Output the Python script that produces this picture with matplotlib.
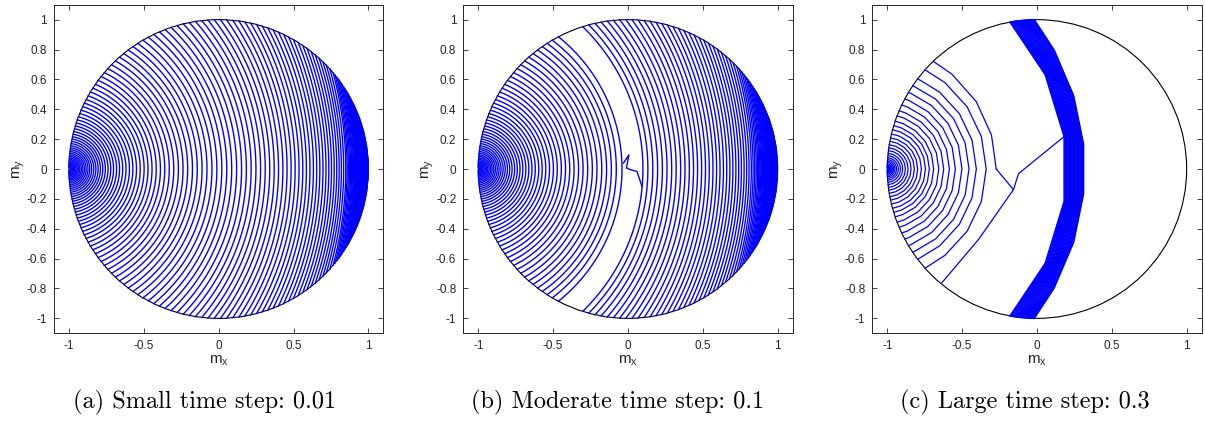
import numpy as np
import matplotlib
matplotlib.use('Agg')
import matplotlib.pyplot as plt
from matplotlib.patches import Circle

plt.rcParams['font.family'] = ['Liberation Sans', 'DejaVu Sans']
plt.rcParams['mathtext.default'] = 'regular'
plt.rcParams['axes.unicode_minus'] = False

# ---------------- data ----------------
# crossing of each precession arc with m_y = 0
a_x0 = [-0.990, -0.983, -0.976, -0.969, -0.961, -0.953, -0.945, -0.936, -0.927, -0.917,
        -0.907, -0.896, -0.885, -0.873, -0.861, -0.848, -0.834, -0.820, -0.805, -0.790,
        -0.774, -0.757, -0.739, -0.721, -0.702, -0.682, -0.662, -0.641, -0.619, -0.596,
        -0.573, -0.549, -0.524, -0.498, -0.472, -0.445, -0.417, -0.389, -0.360, -0.330,
        -0.300, -0.269, -0.238, -0.207, -0.175, -0.143, -0.111, -0.078, -0.045, -0.012,
        0.021, 0.054, 0.087, 0.120, 0.153, 0.185, 0.217, 0.249, 0.280, 0.311,
        0.341, 0.371, 0.400, 0.429, 0.457, 0.484, 0.511, 0.537, 0.562, 0.586,
        0.610, 0.633, 0.655, 0.676, 0.697, 0.717, 0.736, 0.754, 0.772, 0.789,
        0.805, 0.820, 0.835, 0.849, 0.858, 0.866, 0.874, 0.881, 0.888, 0.894,
        0.900, 0.906, 0.911, 0.916, 0.921, 0.926, 0.931, 0.935, 0.939, 0.943,
        0.947, 0.951, 0.955, 0.959, 0.962, 0.965, 0.968, 0.971, 0.974, 0.977,
        0.980, 0.983, 0.986, 0.989, 0.992, 0.995, 0.998]

b_left_x0 = [-0.990, -0.983, -0.976, -0.969, -0.961, -0.953, -0.945, -0.936, -0.927, -0.917,
             -0.907, -0.896, -0.885, -0.873, -0.861, -0.848, -0.834, -0.820, -0.805, -0.790,
             -0.774, -0.757, -0.739, -0.721, -0.702, -0.682, -0.662, -0.641, -0.619, -0.596,
             -0.573, -0.549, -0.524, -0.498, -0.472, -0.445, -0.417, -0.389, -0.360, -0.330,
             -0.300, -0.269, -0.238, -0.207, -0.175, -0.143, -0.111, -0.078, -0.040]
b_right_x0 = [0.100, 0.133, 0.166, 0.198, 0.230, 0.261, 0.292, 0.322, 0.352, 0.381,
              0.410, 0.438, 0.465, 0.492, 0.518, 0.543, 0.568, 0.592, 0.615, 0.638,
              0.660, 0.681, 0.701, 0.721, 0.740, 0.758, 0.776, 0.793, 0.809, 0.824,
              0.836, 0.847, 0.857, 0.866, 0.874, 0.881, 0.888, 0.894, 0.900, 0.906,
              0.911, 0.916, 0.921, 0.926, 0.931, 0.935, 0.939, 0.943, 0.947, 0.951,
              0.955, 0.959, 0.962, 0.965, 0.968, 0.971, 0.974, 0.977, 0.980, 0.983,
              0.986, 0.989, 0.992, 0.995, 0.998]
b_kink_mx = [-0.030, 0.006, -0.010, 0.017, 0.060, 0.095]
b_kink_my = [0.040, 0.095, 0.007, -0.005, -0.016, -0.120]

c_outer_x0 = -0.272
c_left_x0 = [-0.339, -0.405, -0.454, -0.501, -0.545, -0.585, -0.623, -0.656, -0.690, -0.719,
             -0.745, -0.772, -0.797, -0.819, -0.841, -0.861, -0.879, -0.897, -0.912, -0.926,
             -0.938, -0.949, -0.958, -0.966, -0.973, -0.979, -0.984, -0.989, -0.993]
c_band_x0 = [0.197, 0.202, 0.207, 0.212, 0.217, 0.222, 0.227, 0.232, 0.237, 0.242,
             0.247, 0.252, 0.257, 0.262, 0.267, 0.272, 0.277, 0.282, 0.287, 0.292,
             0.297, 0.302, 0.307, 0.312, 0.317, 0.320]
c_jump_mx = [-0.272, -0.157, -0.123, 0.181]
c_jump_my = [0.000, -0.138, -0.031, 0.217]
c_tail_mx = [-0.157, -0.390, -0.634]
c_tail_my = [-0.138, -0.471, -0.760]

x_ticks = [-1, -0.5, 0, 0.5, 1]
x_tick_labels = ['-1', '-0.5', '0', '0.5', '1']
y_ticks = [-1, -0.8, -0.6, -0.4, -0.2, 0, 0.2, 0.4, 0.6, 0.8, 1]
y_tick_labels = ['-1', '-0.8', '-0.6', '-0.4', '-0.2', '0', '0.2', '0.4', '0.6', '0.8', '1']
captions = ['(a) Small time step: 0.01',
            '(b) Moderate time step: 0.1',
            '(c) Large time step: 0.3']

# ---------------- geometry helper ----------------
def arc_path(x0, step=1.0, phase=0.0, lo=None, K=0.19):
    c = -1.0 - K * (x0 + 1.0) ** 2
    R = x0 - c
    xe = (c * c + 1.0 - R * R) / (2.0 * c)
    ye = np.sqrt(max(0.0, 1.0 - xe * xe))
    amax = np.degrees(np.arctan2(ye, xe - c))
    amin = -amax if lo is None else lo
    k = np.arange(np.ceil((amin - phase) / step), np.floor((amax - phase) / step) + 1)
    a = phase + k * step
    a = a[(a > amin) & (a < amax)]
    a = np.concatenate(([amin], a, [amax]))
    t = np.radians(a)
    return c + R * np.cos(t), R * np.sin(t)

BLUE = (0, 0, 1)
LW = 1.0

fig = plt.figure(figsize=(12.05, 4.21), dpi=100)
lefts = [54 / 1205, 463.3 / 1205, 872.3 / 1205]
axes = [fig.add_axes([l, 0.2083, 0.2733, 0.7805]) for l in lefts]

for ax in axes:
    ax.add_patch(Circle((0, 0), 1.0, fill=False, ec='black', lw=0.8, zorder=1))
    ax.set_xlim(-1.1, 1.1)
    ax.set_ylim(-1.1, 1.1)
    ax.set_xticks(x_ticks)
    ax.set_xticklabels(x_tick_labels)
    ax.set_yticks(y_ticks)
    ax.set_yticklabels(y_tick_labels)
    ax.tick_params(direction='in', top=True, right=True, length=3.5, width=0.6,
                   labelsize=8.5, colors='#262626', pad=5)
    for s in ax.spines.values():
        s.set_linewidth(0.7)
        s.set_color('#262626')
    ax.set_xlabel('m$_x$', fontsize=11, color='#262626', labelpad=1)
    ax.set_ylabel('m$_y$', fontsize=11, color='#262626', labelpad=0)

# (a)
ax = axes[0]
for x0 in a_x0:
    px, py = arc_path(x0)
    ax.plot(px, py, color=BLUE, lw=LW, zorder=2)

# (b)
ax = axes[1]
for x0 in b_left_x0 + b_right_x0:
    px, py = arc_path(x0)
    ax.plot(px, py, color=BLUE, lw=LW, zorder=2)
ax.plot(b_kink_mx, b_kink_my, color=BLUE, lw=LW, zorder=2)

# (c)
ax = axes[2]
for x0 in c_left_x0:
    px, py = arc_path(x0, step=17.0, phase=0.0)
    ax.plot(px, py, color=BLUE, lw=0.9, zorder=2)
px, py = arc_path(c_outer_x0, step=17.0, phase=-1.0, lo=0.0)
ax.plot(px, py, color=BLUE, lw=0.9, zorder=2)
ax.plot(c_jump_mx, c_jump_my, color=BLUE, lw=0.9, zorder=2)
ax.plot(c_tail_mx, c_tail_my, color=BLUE, lw=0.9, zorder=2)
n = len(c_band_x0)
for i, x0 in enumerate(c_band_x0):
    st = 17.0 + (11.5 - 17.0) * i / (n - 1)
    px, py = arc_path(x0, step=st, phase=st / 2)
    ax.plot(px, py, color=BLUE, lw=1.0, zorder=2)

cap_x = [205 / 1205, 617.5 / 1205, 1024.7 / 1205]
for x, t in zip(cap_x, captions):
    fig.text(x, 0.045, t, ha='center', va='center', fontsize=17.5, family='cmr10')

fig.savefig('out.png', dpi=100)
